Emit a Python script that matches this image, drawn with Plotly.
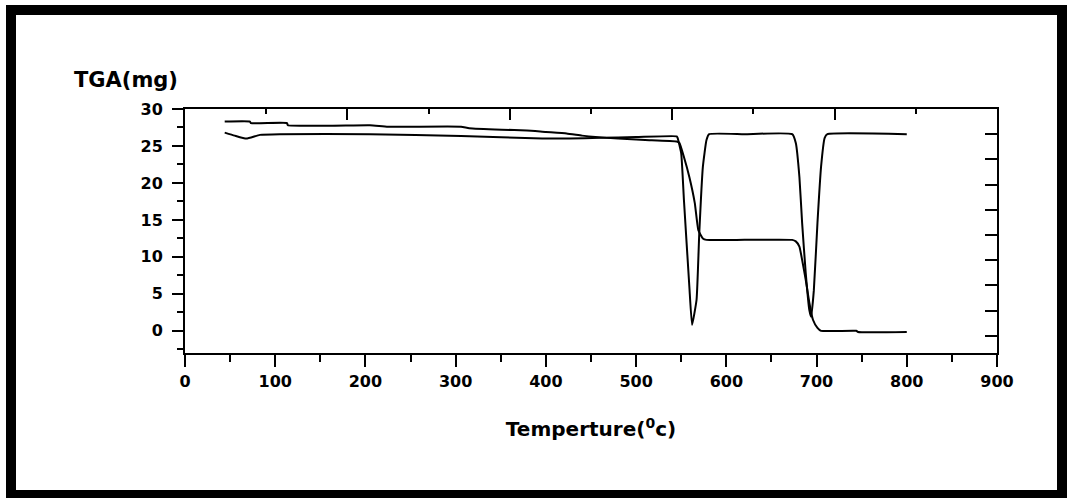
import plotly.graph_objects as go

# ---- data ----
tga_temp = [44, 72, 73, 113, 114, 205, 225, 306, 315, 351, 379, 400, 423, 440, 455, 480, 510,
            545, 548, 553, 559, 565, 569, 574, 578, 620, 673, 677, 681, 684, 688, 692, 696,
            701, 705, 744, 746, 800]
tga_mg = [28.3, 28.3, 28.1, 28.1, 27.8, 27.8, 27.6, 27.6, 27.4, 27.2, 27.1, 26.9, 26.7, 26.4,
          26.2, 26.0, 25.8, 25.6, 25.4, 23.5, 20.8, 17.3, 13.6, 12.5, 12.3, 12.3, 12.3, 12.1,
          11.4, 9.6, 6.9, 3.8, 1.5, 0.4, 0.0, 0.0, -0.15, -0.15]

dtg_temp = [44, 55, 68, 83, 105, 205, 306, 396, 426, 460, 500, 545, 546, 550, 553, 559, 562,
            567, 570, 574, 578, 581, 620, 673, 677, 681, 684, 688, 692, 694, 697, 701, 705,
            709, 712, 800]
dtg_mg = [26.8, 26.4, 26.0, 26.5, 26.6, 26.6, 26.35, 26.0, 26.0, 26.1, 26.2, 26.3, 26.1, 24.0,
          17.7, 6.0, 0.8, 4.2, 13.2, 22.2, 25.8, 26.6, 26.6, 26.6, 25.4, 20.8, 14.6, 7.8, 2.8,
          1.9, 5.5, 14.6, 22.2, 26.1, 26.6, 26.6]

x_ticks = [0, 100, 200, 300, 400, 500, 600, 700, 800, 900]
y_ticks = [0, 5, 10, 15, 20, 25, 30]

# ---- layout geometry (pixels) ----
W, H = 1068, 498
L, R, T, B = 185, 71, 109, 145
PW, PH = W - L - R, H - T - B


def px(xp):
    return (xp - L) / PW


def py(yp):
    return (H - B - yp) / PH


fig = go.Figure()
line_style = dict(color="black", width=2, shape="spline", smoothing=0.4)
fig.add_trace(go.Scatter(x=tga_temp, y=tga_mg, mode="lines", line=line_style,
                         name="TGA", showlegend=False))
fig.add_trace(go.Scatter(x=dtg_temp, y=dtg_mg, mode="lines", line=line_style,
                         name="DTG", showlegend=False))
# empty trace to host the mirror (top/right) axes
fig.add_trace(go.Scatter(x=[None], y=[None], xaxis="x2", yaxis="y2", showlegend=False,
                         hoverinfo="skip"))

tick_font = dict(family="DejaVu Sans", size=16, color="black", weight="bold")

fig.update_layout(
    width=W, height=H,
    margin=dict(l=L, r=R, t=T, b=B, pad=0),
    paper_bgcolor="white", plot_bgcolor="white",
    xaxis=dict(
        range=[0, 900], tickvals=x_ticks, ticktext=[str(v) for v in x_ticks],
        ticks="outside", ticklen=12, tickwidth=2, tickcolor="black",
        minor=dict(dtick=50, tick0=0, ticks="outside", ticklen=7, tickwidth=2, tickcolor="black"),
        showline=True, linewidth=2, linecolor="black", showgrid=False, zeroline=False,
        tickfont=tick_font, ticklabelstandoff=1,
        title=dict(text="Temperture(<sup>0</sup>c)",
                   font=dict(family="DejaVu Sans", size=20, color="black", weight="bold"),
                   standoff=32),
    ),
    yaxis=dict(
        range=[-3, 30], tickvals=y_ticks, ticktext=[str(v) for v in y_ticks],
        ticks="outside", ticklen=11, tickwidth=2, tickcolor="black",
        minor=dict(dtick=2.5, tick0=0, ticks="outside", ticklen=6, tickwidth=2, tickcolor="black"),
        showline=True, linewidth=2, linecolor="black", showgrid=False, zeroline=False,
        tickfont=tick_font, ticklabelstandoff=6,
    ),
    xaxis2=dict(
        overlaying="x", side="top", range=[0, 10], dtick=2, tick0=0,
        ticks="inside", ticklen=11, tickwidth=2, tickcolor="black",
        minor=dict(dtick=1, tick0=0, ticks="inside", ticklen=5, tickwidth=2, tickcolor="black"),
        showticklabels=False, showline=True, linewidth=2, linecolor="black",
        showgrid=False, zeroline=False,
    ),
    yaxis2=dict(
        overlaying="y", side="right", range=[-0.68, 9.0], dtick=1, tick0=0,
        ticks="inside", ticklen=12, tickwidth=2, tickcolor="black",
        showticklabels=False, showline=True, linewidth=2, linecolor="black",
        showgrid=False, zeroline=False,
    ),
    annotations=[
        dict(text="TGA(mg)", xref="paper", yref="paper", x=px(72), y=py(80),
             xanchor="left", yanchor="middle", showarrow=False,
             font=dict(family="DejaVu Sans", size=21, color="black", weight="bold")),
    ],
    shapes=[
        dict(type="rect", xref="paper", yref="paper",
             x0=px(11), x1=px(1062), y0=py(495), y1=py(10),
             line=dict(color="black", width=10), fillcolor="rgba(0,0,0,0)", layer="above"),
    ],
)

fig.write_html("out.html")
